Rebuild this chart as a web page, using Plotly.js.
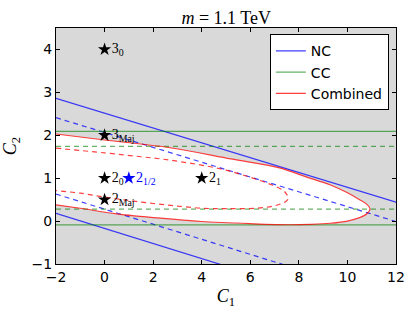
<!DOCTYPE html>
<html>
<head>
<meta charset="utf-8">
<script src="https://cdn.plot.ly/plotly-3.0.1.min.js"></script>
<style>html,body{margin:0;padding:0;background:#fff;}#chart{width:415px;height:312px;}</style>
</head>
<body>
<div id="chart"></div>
<script>
// ---- data ----
const xEnds = [-2, 12];
const ncSolidUp = [2.86, 0.44];
const ncSolidLo = [0.18, -2.28];
const ncDashUp = [2.41, -0.01];
const ncDashLo = [0.63, -1.83];
const ccSolid = [2.09, -0.09];
const ccDash = [1.74, 0.28];

const combSolidC1 = [-2, 0, 2.7, 5.2, 7.2, 8.3, 9.3, 10.0, 10.5, 10.8, 10.93, 10.8, 10.5, 10.0, 9.3, 8.5, 7.6, 6.0, 4.0, 2.7, 0.5, -1, -2];
const combSolidC2 = [2.03, 1.89, 1.71, 1.45, 1.24, 1.03, 0.84, 0.66, 0.50, 0.39, 0.28, 0.17, 0.08, 0.00, -0.05, -0.075, -0.085, -0.06, -0.01, 0.05, 0.17, 0.30, 0.38];

const combDashC1 = [-2, 0, 1.5, 2.7, 4.75, 6.0, 6.9, 7.37, 7.52, 7.56, 7.45, 7.3, 6.95, 6.3, 5.0, 4.0, 3.0, 2.0, 1.0, 0, -1, -2];
const combDashC2 = [1.70, 1.59, 1.50, 1.42, 1.22, 1.02, 0.84, 0.71, 0.60, 0.52, 0.45, 0.41, 0.35, 0.30, 0.29, 0.30, 0.35, 0.41, 0.48, 0.56, 0.65, 0.71];

const starC1 = [0, 0, 0, 4, 0];
const starC2 = [4, 2, 1, 1, 0.5];
const starLabels = ['3<sub>0</sub>', '3<sub>Maj</sub>', '2<sub>0</sub>', '2<sub>1</sub>', '2<sub>Maj</sub>'];
const blueStarC1 = [1];
const blueStarC2 = [1];
const blueStarLabels = ['2<sub>1/2</sub>'];

const titleText = '<i>m</i> = 1.1 TeV';
const xTickVals = [-2, 0, 2, 4, 6, 8, 10, 12];
const yTickVals = [-1, 0, 1, 2, 3, 4];

// ---- styles ----
const BLUE = 'rgba(0,0,255,0.75)';
const GREEN = 'rgba(0,128,0,0.6)';
const RED = 'rgba(255,0,0,0.75)';
const DASH = '5px,4px';

function line(x, y, color, dash, name, show) {
  return {x: x, y: y, type: 'scatter', mode: 'lines', name: name || '',
    showlegend: !!show, hoverinfo: 'skip',
    line: {color: color, width: 1.2, dash: dash || 'solid', shape: 'linear'}};
}

const traces = [
  // white allowed region
  {x: combSolidC1, y: combSolidC2, type: 'scatter', mode: 'lines', fill: 'toself',
   fillcolor: '#ffffff', line: {width: 0, shape: 'spline', color: 'rgba(0,0,0,0)'}, showlegend: false, hoverinfo: 'skip'},
  line(xEnds, ncSolidUp, BLUE, 'solid', 'NC', true),
  line(xEnds, ncSolidLo, BLUE, 'solid'),
  line(xEnds, ncDashUp, BLUE, DASH),
  line(xEnds, ncDashLo, BLUE, DASH),
  line(xEnds, [ccSolid[0], ccSolid[0]], GREEN, 'solid', 'CC', true),
  line(xEnds, [ccSolid[1], ccSolid[1]], GREEN, 'solid'),
  line(xEnds, [ccDash[0], ccDash[0]], GREEN, DASH),
  line(xEnds, [ccDash[1], ccDash[1]], GREEN, DASH),
];
const rs = line(combSolidC1, combSolidC2, RED, 'solid', 'Combined', true);
rs.line.shape = 'spline';
const rd = line(combDashC1, combDashC2, RED, DASH);
rd.line.shape = 'spline';
traces.push(rs, rd);

traces.push({x: starC1, y: starC2, text: starLabels, type: 'scatter', mode: 'markers+text',
  textposition: 'middle right', showlegend: false, hoverinfo: 'skip',
  marker: {symbol: 'star', size: 10, color: '#000000', line: {width: 0}},
  textfont: {family: 'Liberation Serif, serif', size: 14, color: '#000000'}});
traces.push({x: blueStarC1, y: blueStarC2, text: blueStarLabels, type: 'scatter', mode: 'markers+text',
  textposition: 'middle right', showlegend: false, hoverinfo: 'skip',
  marker: {symbol: 'star', size: 10, color: '#0000ff', line: {width: 0}},
  textfont: {family: 'Liberation Serif, serif', size: 14, color: '#0000ff'}});

const axisCommon = {showgrid: false, zeroline: false, showline: true, linecolor: '#000', linewidth: 1,
  mirror: 'ticks', ticks: 'inside', ticklen: 4, tickcolor: '#000', tickwidth: 1,
  tickfont: {family: 'DejaVu Sans, sans-serif', size: 14, color: '#000'}};

const layout = {
  width: 415, height: 312,
  margin: {l: 56, r: 19, t: 28, b: 48},
  paper_bgcolor: '#ffffff', plot_bgcolor: '#d9d9d9',
  title: {text: titleText, font: {family: 'Liberation Serif, serif', size: 18, color: '#000'},
          x: 0.545, xanchor: 'center', y: 0.962, yanchor: 'top'},
  xaxis: Object.assign({}, axisCommon, {range: [-2, 12], tickvals: xTickVals,
    title: {text: '<i>C</i><sub>1</sub>', font: {family: 'Liberation Serif, serif', size: 18, color: '#000'}, standoff: 5}}),
  yaxis: Object.assign({}, axisCommon, {range: [-1, 4.5], tickvals: yTickVals,
    title: {text: '<i>C</i><sub>2</sub>', font: {family: 'Liberation Serif, serif', size: 18, color: '#000'}, standoff: 10}}),
  legend: {x: 0.979, xanchor: 'right', y: 0.973, yanchor: 'top', bgcolor: '#ffffff',
    bordercolor: '#000', borderwidth: 1, font: {family: 'DejaVu Sans, sans-serif', size: 14, color: '#000'},
    tracegroupgap: 0, itemwidth: 30},
  showlegend: true
};

Plotly.newPlot('chart', traces, layout, {displayModeBar: false, staticPlot: true});
</script>
</body>
</html>
